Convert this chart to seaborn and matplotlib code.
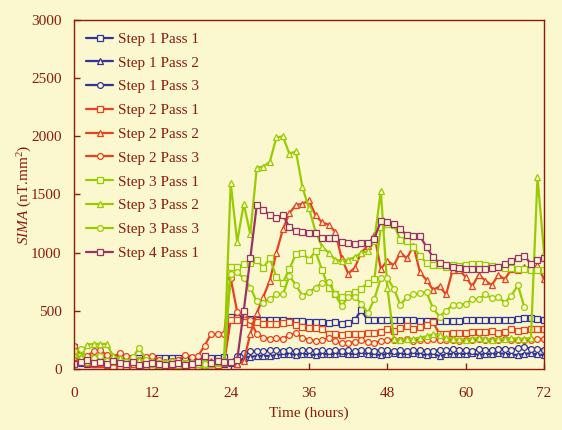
import matplotlib
matplotlib.use('Agg')
import matplotlib.pyplot as plt
import pandas as pd
import seaborn as sns

# SIMA per step/pass, sampled every hour from 0 to 72 h
hours = list(range(73))

s1p1 = [190, 95, 90, 90, 90, 90, 90, 90, 90, 90, 90, 90, 90, 90, 90, 90, 90, 90, 90, 90, 90, 90, 90, 100,
        450, 440, 440, 430, 425, 420, 420, 425, 420, 415, 410, 410, 405, 400, 400, 395, 400, 390, 395, 420,
        505, 420, 420, 425, 420, 420, 425, 420, 420, 415, 415, 410, 415, 410, 415, 415, 420, 420, 420, 425,
        420, 420, 425, 420, 430, 440, 435, 430, 425]
s1p2 = [60, 50, 40, 45, 40, 50, 45, 40, 40, 45, 40, 40, 40, 45, 40, 40, 40, 45, 40, 40, 45, 40, 40, 45,
        50, 45, 95, 105, 110, 115, 110, 120, 125, 130, 120, 130, 125, 120, 130, 125, 130, 135, 125, 130,
        135, 130, 125, 120, 130, 135, 125, 130, 135, 125, 120, 130, 110, 125, 130, 125, 130, 135, 120, 130,
        125, 135, 130, 125, 120, 130, 135, 125, 120]
s1p3 = [130, 60, 55, 50, 60, 55, 50, 55, 60, 50, 55, 50, 50, 55, 50, 55, 50, 50, 55, 50, 50, 55, 50, 60,
        60, 110, 140, 150, 155, 150, 160, 165, 155, 160, 150, 165, 160, 155, 160, 150, 165, 155, 160, 150,
        160, 165, 155, 160, 165, 150, 160, 155, 165, 160, 155, 150, 165, 160, 170, 160, 165, 155, 170, 165,
        160, 170, 175, 165, 180, 185, 175, 170, 165]
s2p1 = [60, 70, 50, 40, 45, 30, 20, 25, 20, 15, 20, 25, 20, 15, 20, 20, 25, 30, 25, 20, 30, 40, 35, 60,
        420, 420, 400, 390, 400, 390, 390, 385, 395, 400, 380, 360, 350, 355, 340, 300, 300, 295, 300, 300,
        300, 305, 305, 320, 340, 330, 350, 370, 340, 360, 380, 400, 300, 300, 310, 305, 310, 320, 315, 320,
        330, 310, 320, 340, 330, 335, 340, 345, 345]
s2p2 = [100, 80, 60, 70, 50, 40, 60, 50, 45, 40, 35, 40, 50, 45, 40, 35, 40, 45, 50, 40, 60, 70, 60, 50,
        60, 40, 70, 300, 480, 620, 760, 1000, 1200, 1340, 1410, 1420, 1450, 1320, 1260, 1240, 1180, 950,
        820, 870, 1000, 1060, 1150, 860, 930, 890, 1000, 950, 1060, 830, 765, 680, 710, 640, 850, 850, 790,
        710, 810, 760, 720, 810, 770, 860, 850, 880, 860, 890, 770]
s2p3 = [200, 130, 110, 150, 160, 120, 100, 140, 110, 90, 80, 100, 110, 80, 60, 70, 80, 120, 100, 110, 200, 300, 300, 300,
        780, 490, 470, 420, 300, 270, 260, 265, 260, 290, 305, 270, 250, 240, 245, 270, 240, 220, 225, 230,
        250, 230, 225, 240, 250, 250, 245, 255, 240, 250, 245, 255, 250, 245, 250, 240, 250, 245, 255, 250,
        245, 250, 255, 250, 245, 250, 250, 255, 260]
s3p1 = [140, 110, 80, 90, 70, 60, 75, 60, 50, 70, 60, 55, 50, 40, 50, 60, 45, 50, 40, 45, 50, 40, 50, 60,
        880, 880, 900, 910, 940, 870, 950, 790, 740, 860, 990, 1000, 940, 1010, 850, 700, 640, 620, 640, 660,
        690, 740, 770, 1220, 1250, 1240, 1110, 1100, 1050, 970, 910, 895, 890, 880, 890, 885, 890, 900, 905,
        890, 885, 875, 870, 865, 860, 855, 850, 850, 850]
s3p2 = [130, 100, 210, 215, 215, 215, 110, 90, 70, 60, 80, 60, 40, 30, 50, 40, 35, 30, 50, 40, 30, 40, 60, 80,
        1600, 1090, 1420, 1160, 1730, 1740, 1780, 1990, 2000, 1850, 1870, 1560, 1380, 1180, 1050, 1000, 940,
        930, 940, 960, 1000, 1010, 1100, 1530, 700, 260, 250, 255, 260, 270, 280, 300, 290, 270, 260, 255,
        250, 260, 265, 255, 250, 260, 255, 265, 260, 255, 270, 1650, 1000]
s3p3 = [150, 170, 60, 90, 110, 70, 60, 55, 60, 100, 180, 80, 60, 50, 40, 60, 50, 40, 50, 60, 40, 50, 60, 70,
        820, 830, 780, 700, 580, 570, 600, 640, 640, 800, 720, 630, 660, 700, 740, 750, 640, 540, 620, 620,
        560, 480, 600, 780, 780, 690, 550, 620, 640, 650, 660, 520, 450, 500, 550, 550, 560, 600, 600, 640,
        610, 620, 570, 630, 720, 530, None, None, None]
s4p1 = [40, 60, 80, 50, 60, 40, 70, 50, 40, 60, 30, 40, 50, 40, 30, 40, 50, 30, 40, 60, 110, 50, 70, 60,
        60, 80, 500, 950, 1410, 1370, 1320, 1300, 1320, 1220, 1190, 1180, 1170, 1170, 1130, 1125, 1130, 1095,
        1080, 1070, 1080, 1085, 1120, 1270, 1260, 1250, 1200, 1150, 1140, 1140, 1050, 960, 910, 890, 880, 870,
        860, 855, 855, 860, 865, 880, 900, 930, 950, 975, 900, 940, 950]

series_names = ['Step 1 Pass 1', 'Step 1 Pass 2', 'Step 1 Pass 3',
                'Step 2 Pass 1', 'Step 2 Pass 2', 'Step 2 Pass 3',
                'Step 3 Pass 1', 'Step 3 Pass 2', 'Step 3 Pass 3',
                'Step 4 Pass 1']
series_values = [s1p1, s1p2, s1p3, s2p1, s2p2, s2p3, s3p1, s3p2, s3p3, s4p1]

# styles
BLUE, RED, GREEN, PURPLE = '#333399', '#E8421E', '#99CC00', '#993366'
series_colors = [BLUE] * 3 + [RED] * 3 + [GREEN] * 3 + [PURPLE]
series_markers = ['s', '^', 'o'] * 3 + ['s']
BG = '#FBF7CF'
TXT = '#8C1C0C'


def make_frame():
    frames = []
    for name, vals in zip(series_names, series_values):
        frames.append(pd.DataFrame({'hours': hours, 'sima': vals, 'series': name}))
    df = pd.concat(frames, ignore_index=True)
    df['sima'] = df['sima'].astype(float)
    return df.dropna()


def draw(df):
    sns.set_style('ticks')
    plt.rcParams['font.family'] = ['Liberation Serif', 'DejaVu Serif']
    plt.rcParams['mathtext.fontset'] = 'custom'
    plt.rcParams['mathtext.rm'] = 'Liberation Serif'
    plt.rcParams['mathtext.it'] = 'Liberation Serif:italic'

    fig, ax = plt.subplots(figsize=(5.62, 4.30), dpi=100)
    fig.subplots_adjust(left=0.1317, right=0.968, top=0.9535, bottom=0.142)
    fig.patch.set_facecolor(BG)
    ax.set_facecolor(BG)

    for name, color, marker in zip(series_names, series_colors, series_markers):
        sns.lineplot(data=df[df['series'] == name], x='hours', y='sima', ax=ax,
                     color=color, marker=marker, markersize=4.2, mfc=BG, mec=color,
                     mew=0.9, linewidth=1.6, label=name, errorbar=None)

    ax.set_xlim(0, 72)
    ax.set_ylim(0, 3000)
    ax.set_xticks(range(0, 73, 12))
    ax.set_yticks(range(0, 3001, 500))
    ax.tick_params(axis='both', direction='in', length=4, width=1, color=TXT,
                   labelcolor=TXT, labelsize=11)
    ax.tick_params(axis='x', pad=13)
    ax.tick_params(axis='y', pad=9)
    for sp in ax.spines.values():
        sp.set_visible(True)
        sp.set_color(TXT)
        sp.set_linewidth(1.0)

    ax.set_xlabel('Time (hours)', color=TXT, fontsize=11, labelpad=5)
    ax.set_ylabel(r'$\mathit{SIMA}$ (nT.mm$^2$)', color=TXT, fontsize=11, labelpad=-2)

    ax.legend(loc='upper left', frameon=False, fontsize=11, labelcolor=TXT,
              handlelength=1.75, handletextpad=0.35, labelspacing=0.66,
              bbox_to_anchor=(0.0, 1.0), borderaxespad=0.4)

    fig.savefig('out.png', dpi=100, facecolor=BG)


if __name__ == '__main__':
    draw(make_frame())
